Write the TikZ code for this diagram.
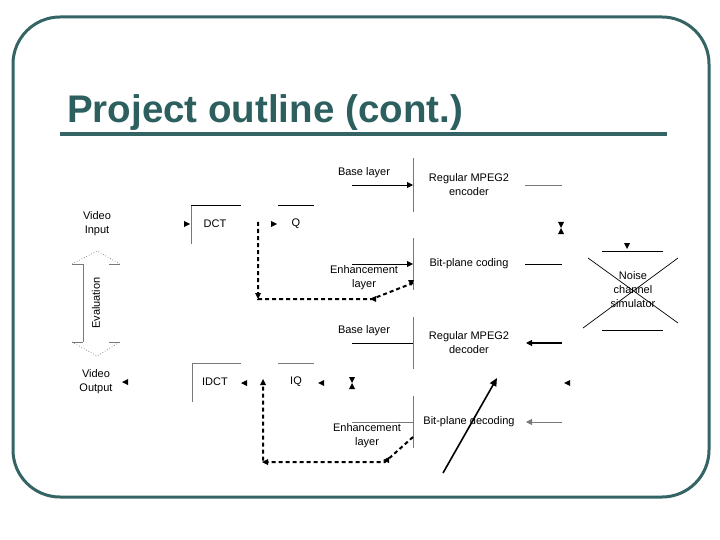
\documentclass[tikz,border=0pt]{standalone}
\usepackage{fontspec}
\setmainfont{Liberation Sans}
\usetikzlibrary{arrows.meta}
\definecolor{tealb}{RGB}{52,100,100}
\definecolor{tealt}{RGB}{45,95,95}
\definecolor{lgray}{RGB}{120,120,120}
\tikzset{
  lbl/.style={align=center, inner sep=0pt, font=\fontsize{11}{14}\selectfont},
  gline/.style={draw=lgray, line width=0.8pt},
  bline/.style={draw=black, line width=0.9pt},
  dline/.style={draw=black, line width=2pt, dash pattern=on 4pt off 3pt},
  tip/.style={-{Triangle[length=6pt,width=6pt]}},
  pics/triR/.style={code={\fill (-3,-3) -- (3,0) -- (-3,3) -- cycle;}},
  pics/triL/.style={code={\fill (3,-3) -- (-3,0) -- (3,3) -- cycle;}},
  pics/triD/.style={code={\fill (-3,-3) -- (3,-3) -- (0,3) -- cycle;}},
  pics/triU/.style={code={\fill (-3,3) -- (3,3) -- (0,-3) -- cycle;}},
  pics/hglass/.style={code={\fill (-3,-6) -- (3,-6) -- (0,0) -- cycle; \fill (-3,6) -- (3,6) -- (0,0) -- cycle;}}
}
\begin{document}
\begin{tikzpicture}[x=1pt,y=-1pt]
\useasboundingbox (0,0) rectangle (720,540);
% frame and title
\draw[tealb, line width=3pt, rounded corners=47pt] (13,17) rectangle (709,497);
\node[anchor=base west, inner sep=0pt, text=tealt, font=\bfseries\fontsize{38.5}{40}\selectfont] (title) at (67,123) {Project outline (cont.)};
\draw[tealb, line width=3.5pt] (60,134) -- (667,134);

% left labels
\node[lbl] (vin) at (97,224) {Video\\Input};
\node[lbl] (vout) at (96,382) {Video\\Output};
\node[lbl, rotate=90] (eval) at (96,303) {Evaluation};
\draw[gline] (72,264) -- (83,264) (109,264) -- (120,264) (83,264) -- (83,342);
\draw[gline] (72,342) -- (83,342) (109,342) -- (120,342);
\draw[lgray, dotted, line width=0.7pt] (72,264) -- (97,251) -- (120,264);
\draw[lgray, dotted, line width=0.7pt] (72,342) -- (97,356) -- (120,342);
\pic at (125,382) {triL};

% DCT / Q
\node[lbl] (dct) at (215,224) {DCT};
\node[lbl] (q) at (296,224) {Q};
\draw[gline] (191,205) -- (191,244);
\draw[bline] (191,205) -- (241,205);
\draw[bline] (278,205) -- (314,205);
\pic at (187,224) {triR};
\pic at (274,224) {triR};

% IDCT / IQ
\node[lbl] (idct) at (215,382) {IDCT};
\node[lbl] (iq) at (296,382) {IQ};
\draw[gline] (192,363) -- (192,402) (192,363) -- (241,363);
\draw[gline] (278,363) -- (314,363);
\pic at (244,383) {triL};
\pic at (321,383) {triL};
\pic at (352,383) {hglass};

% encoder side
\node[lbl] (bl1) at (364,173) {Base layer};
\node[lbl] (enc) at (469,185) {Regular MPEG2\\encoder};
\node[lbl] (bpc) at (469,264) {Bit-plane coding};
\node[lbl] (el1) at (364,278) {Enhancement\\layer};
\coordinate (b1s) at (352,185); \coordinate (b1e) at (413,185);
\draw[bline, tip] (b1s) -- (b1e);
\draw[gline] (413,158) -- (413,212);
\draw[gline] (525,185) -- (562,185);
\pic at (561,228) {hglass};
\draw[gline] (413,238) -- (413,290);
\coordinate (e1s) at (352,264); \coordinate (e1e) at (413,264);
\draw[bline, tip] (e1s) -- (e1e);
\draw[bline] (525,264) -- (562,264);

% dashed loop (top)
\draw[dline] (258,222) -- (258,299) -- (372,299) -- (413,283);
\pic at (258,296) {triD};
\pic at (373,299) {triL};
\pic at (411,283) {triD};

% noise channel
\node[lbl] (noise) at (633,290) {Noise\\channel\\simulator};
\pic at (627,246) {triD};
\draw[bline] (602,251) -- (663,251);
\draw[bline] (602,330) -- (663,330);
\draw[black, line width=0.7pt] (588,258) -- (678,323);
\draw[black, line width=0.7pt] (583,328) -- (678,258);

% decoder side
\node[lbl] (bl2) at (364,331) {Base layer};
\node[lbl] (dec) at (469,343) {Regular MPEG2\\decoder};
\node[lbl] (bpd) at (469,422) {Bit-plane decoding};
\node[lbl] (el2) at (367,436) {Enhancement\\layer};
\draw[bline] (352,343) -- (413,343);
\draw[gline] (413,317) -- (413,369);
\coordinate (d1s) at (562,343); \coordinate (d1e) at (526,343);
\draw[black, line width=1.1pt, tip] (d1s) -- (d1e);
\pic at (567,383) {triL};
\draw[gline] (413,396) -- (413,448);
\draw[gline] (352,422) -- (413,422);
\coordinate (d2s) at (562,422); \coordinate (d2e) at (526,422);
\draw[gline, tip] (d2s) -- (d2e);

% dashed loop (bottom)
\draw[dline] (413,437) -- (385,462) -- (263,462) -- (263,383);
\pic at (386,460) {triL};
\pic at (265,462) {triL};
\pic at (263,382) {triU};

% thick slanted arrow
\coordinate (sa) at (443,473); \coordinate (sb) at (497,378);
\draw[black, line width=1.6pt, -{Triangle[length=8pt,width=7pt]}] (sa) -- (sb);
\end{tikzpicture}
\end{document}
